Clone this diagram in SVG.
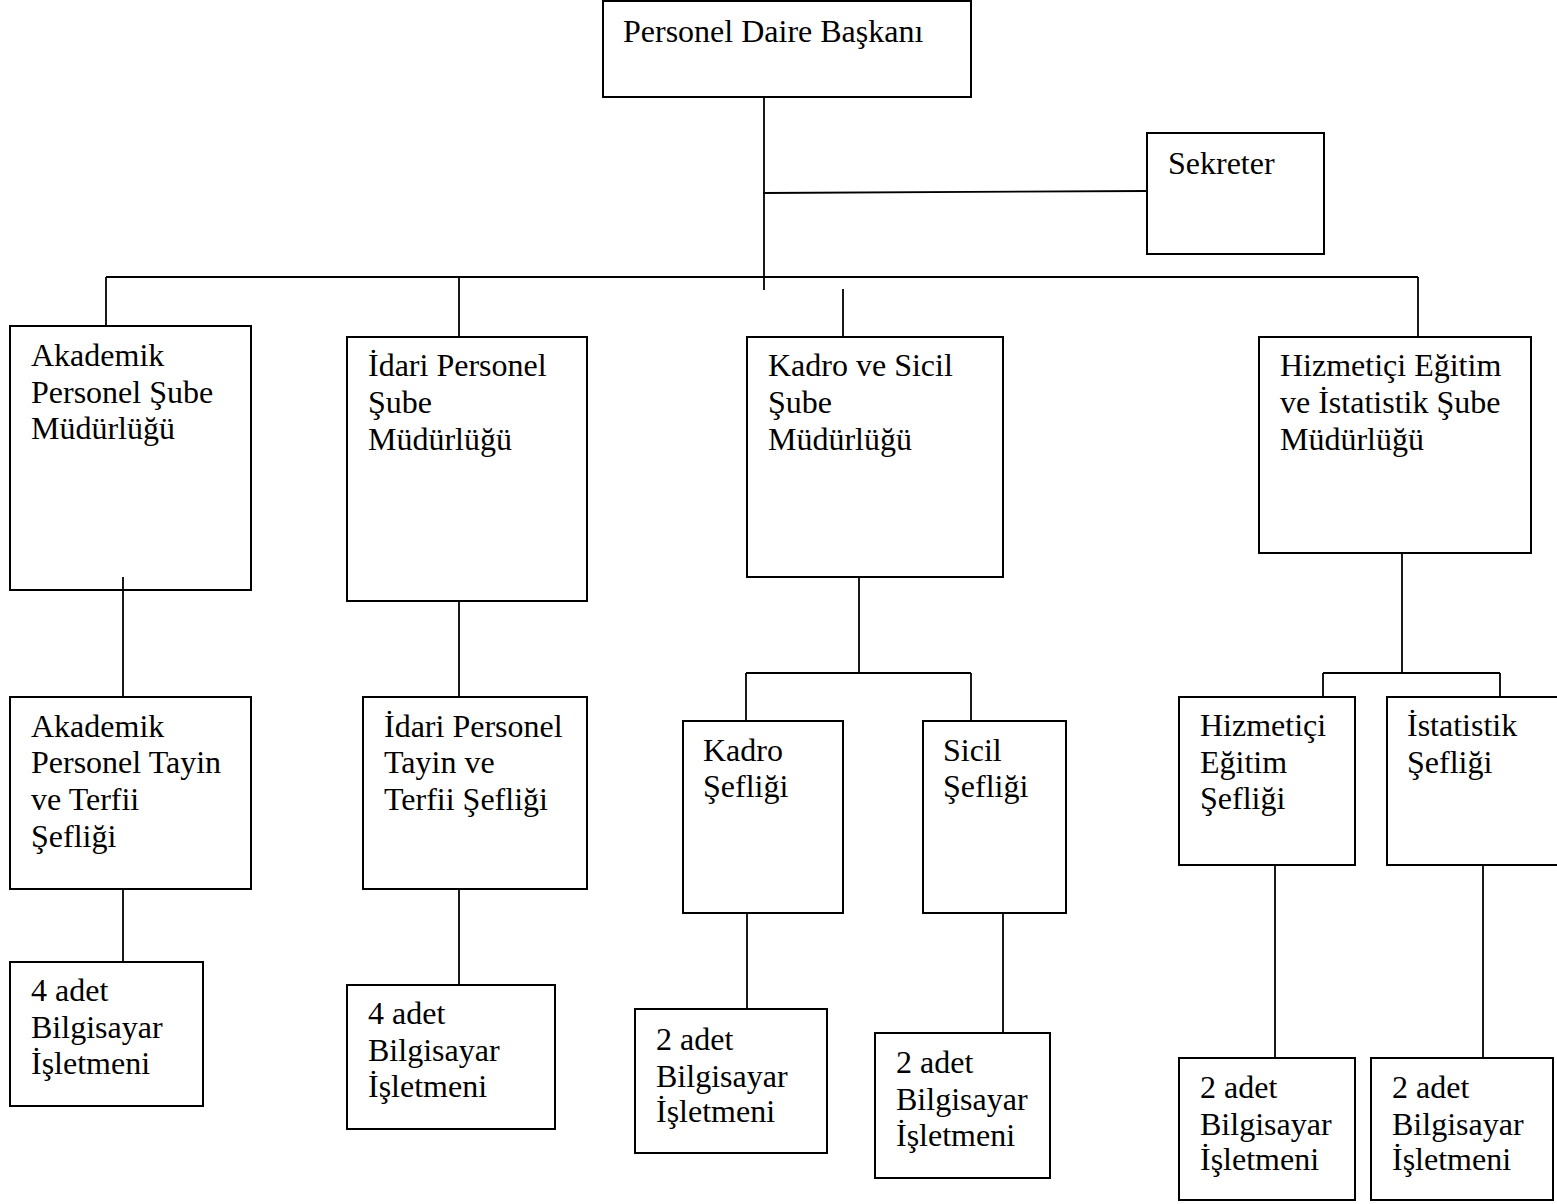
<svg xmlns="http://www.w3.org/2000/svg" width="1557" height="1204" viewBox="0 0 1557 1204">
<style>
.b{fill:#fff;stroke:#000;stroke-width:2}
.c line{stroke:#000;stroke-width:1.8}
text{font-family:"Liberation Serif","Times New Roman",serif;font-size:32px;fill:#000}
</style>
<rect width="1557" height="1204" fill="#fff"/>
<g id="n-baskan"><rect class="b" x="603" y="1" width="368" height="96"/><text x="623" y="42">Personel Daire Başkanı</text></g>
<g id="n-sekreter"><rect class="b" x="1147" y="133" width="177" height="121"/><text x="1168" y="174">Sekreter</text></g>
<g id="n-akademik"><rect class="b" x="10" y="326" width="241" height="264"/><text x="31" y="366">Akademik</text><text x="31" y="403">Personel Şube</text><text x="31" y="439">Müdürlüğü</text></g>
<g id="n-idari"><rect class="b" x="347" y="337" width="240" height="264"/><text x="368" y="376">İdari Personel</text><text x="368" y="413">Şube</text><text x="368" y="450">Müdürlüğü</text></g>
<g id="n-kadrosicil"><rect class="b" x="747" y="337" width="256" height="240"/><text x="768" y="376">Kadro ve Sicil</text><text x="768" y="413">Şube</text><text x="768" y="450">Müdürlüğü</text></g>
<g id="n-hizmetici"><rect class="b" x="1259" y="337" width="272" height="216"/><text x="1280" y="376">Hizmetiçi Eğitim</text><text x="1280" y="413">ve İstatistik Şube</text><text x="1280" y="450">Müdürlüğü</text></g>
<g id="n-akademik-tayin"><rect class="b" x="10" y="697" width="241" height="192"/><text x="31" y="737">Akademik</text><text x="31" y="773">Personel Tayin</text><text x="31" y="810">ve Terfii</text><text x="31" y="847">Şefliği</text></g>
<g id="n-idari-tayin"><rect class="b" x="363" y="697" width="224" height="192"/><text x="384" y="737">İdari Personel</text><text x="384" y="773">Tayin ve</text><text x="384" y="810">Terfii Şefliği</text></g>
<g id="n-kadro"><rect class="b" x="683" y="721" width="160" height="192"/><text x="703" y="761">Kadro</text><text x="703" y="797">Şefliği</text></g>
<g id="n-sicil"><rect class="b" x="923" y="721" width="143" height="192"/><text x="943" y="761">Sicil</text><text x="943" y="797">Şefliği</text></g>
<g id="n-hizmetici-sef"><rect class="b" x="1179" y="697" width="176" height="168"/><text x="1200" y="736">Hizmetiçi</text><text x="1200" y="773">Eğitim</text><text x="1200" y="809">Şefliği</text></g>
<g id="n-istatistik"><rect class="b" x="1387" y="697" width="175" height="168"/><text x="1407" y="736">İstatistik</text><text x="1407" y="773">Şefliği</text></g>
<g id="n-bi1"><rect class="b" x="10" y="962" width="193" height="144"/><text x="31" y="1001">4 adet</text><text x="31" y="1038">Bilgisayar</text><text x="31" y="1074">İşletmeni</text></g>
<g id="n-bi2"><rect class="b" x="347" y="985" width="208" height="144"/><text x="368" y="1024">4 adet</text><text x="368" y="1061">Bilgisayar</text><text x="368" y="1097">İşletmeni</text></g>
<g id="n-bi3"><rect class="b" x="635" y="1009" width="192" height="144"/><text x="656" y="1050">2 adet</text><text x="656" y="1087">Bilgisayar</text><text x="656" y="1122">İşletmeni</text></g>
<g id="n-bi4"><rect class="b" x="875" y="1033" width="175" height="145"/><text x="896" y="1073">2 adet</text><text x="896" y="1110">Bilgisayar</text><text x="896" y="1146">İşletmeni</text></g>
<g id="n-bi5"><rect class="b" x="1179" y="1058" width="176" height="142"/><text x="1200" y="1098">2 adet</text><text x="1200" y="1135">Bilgisayar</text><text x="1200" y="1170">İşletmeni</text></g>
<g id="n-bi6"><rect class="b" x="1371" y="1058" width="182" height="142"/><text x="1392" y="1098">2 adet</text><text x="1392" y="1135">Bilgisayar</text><text x="1392" y="1170">İşletmeni</text></g>
<g class="c" id="connectors">
<line x1="764" y1="98" x2="764" y2="290"/>
<line x1="763" y1="193" x2="1146" y2="191"/>
<line x1="106" y1="277" x2="1418" y2="277"/>
<line x1="106" y1="277" x2="106" y2="325"/>
<line x1="459" y1="277" x2="459" y2="336"/>
<line x1="843" y1="289" x2="843" y2="336"/>
<line x1="1418" y1="277" x2="1418" y2="336"/>
<line x1="123" y1="577" x2="123" y2="696"/>
<line x1="459" y1="602" x2="459" y2="696"/>
<line x1="859" y1="578" x2="859" y2="673"/>
<line x1="746" y1="673" x2="971" y2="673"/>
<line x1="746" y1="673" x2="746" y2="720"/>
<line x1="971" y1="673" x2="971" y2="720"/>
<line x1="1402" y1="554" x2="1402" y2="673"/>
<line x1="1323" y1="673" x2="1500" y2="673"/>
<line x1="1323" y1="673" x2="1323" y2="696"/>
<line x1="1500" y1="673" x2="1500" y2="696"/>
<line x1="123" y1="890" x2="123" y2="961"/>
<line x1="459" y1="890" x2="459" y2="984"/>
<line x1="747" y1="914" x2="747" y2="1008"/>
<line x1="1003" y1="914" x2="1003" y2="1032"/>
<line x1="1275" y1="866" x2="1275" y2="1057"/>
<line x1="1483" y1="866" x2="1483" y2="1057"/>
</g>
</svg>
